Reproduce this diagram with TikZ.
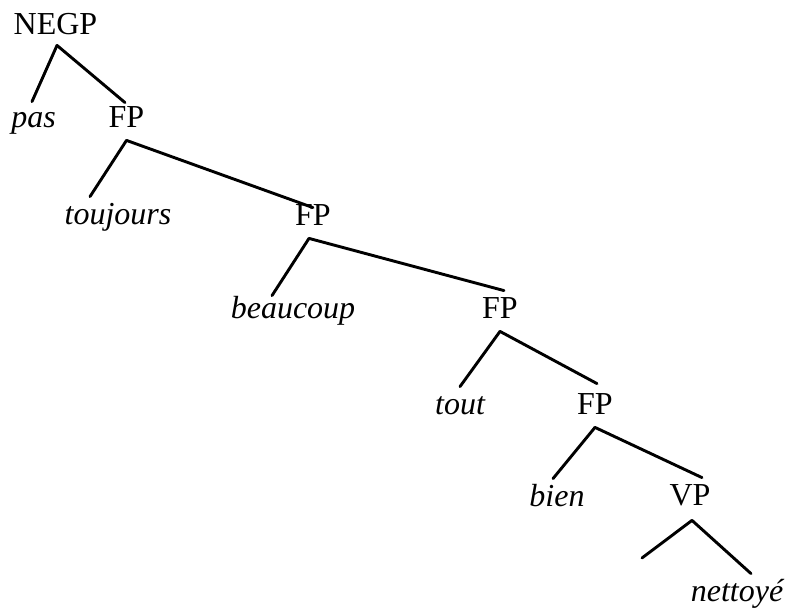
\documentclass[tikz,border=0pt]{standalone}
\usepackage{fontspec}
\setmainfont{Liberation Serif}
\begin{document}
\begin{tikzpicture}[x=0.5pt,y=-0.5pt,
  lbl/.style={anchor=base,inner sep=0pt,text height=14pt,text depth=6pt,
    font=\fontsize{16}{19}\selectfont},
  leaf/.style={lbl,font=\fontsize{16}{19}\selectfont\itshape},
  branch/.style={line width=1.45pt,line cap=round}]
\useasboundingbox (0,0) rectangle (789,610);
% labels
\node[lbl]  (negp) at (55.5,35)  {NEGP};
\node[leaf] (pas)  at (33.5,128) {pas};
\node[lbl]  (fpa)  at (126.5,128) {FP};
\node[leaf] (touj) at (118,225) {toujours};
\node[lbl]  (fpb)  at (313,226) {FP};
\node[leaf] (beau) at (293,319) {beaucoup};
\node[lbl]  (fpc)  at (500,319) {FP};
\node[leaf] (tout) at (460,415) {tout};
\node[lbl]  (fpd)  at (595,415) {FP};
\node[leaf] (bien) at (557,507) {bien};
\node[lbl]  (vp)   at (690,506) {VP};
\node[leaf] (nett) at (737,602) {nettoy\'e};
\coordinate (vpleft) at (642,558);
% branches
\draw[branch] ([shift={(1.5,-2)}]negp.south) -- ([shift={(-1.5,2)}]pas.north);
\draw[branch] ([shift={(1.5,-2)}]negp.south) -- ([shift={(-1.5,3)}]fpa.north);
\draw[branch] (fpa.south) -- ([xshift=-14]touj.north);
\draw[branch] (fpa.south) -- ([yshift=-5]fpb.north);
\draw[branch] ([xshift=-2]fpb.south) -- ([shift={(-21,5)}]beau.north);
\draw[branch] ([xshift=-2]fpb.south) -- ([xshift=2]fpc.north);
\draw[branch] (fpc.south) -- (tout.north);
\draw[branch] (fpc.south) -- ([shift={(2,-3)}]fpd.north);
\draw[branch] (fpd.south) -- ([xshift=-2]bien.north);
\draw[branch] (fpd.south) -- ([xshift=6]vp.north);
\draw[branch] ([shift={(2,2)}]vp.south) -- (vpleft);
\draw[branch] ([shift={(2,2)}]vp.south) -- ([xshift=7]nett.north);
\end{tikzpicture}
\end{document}
